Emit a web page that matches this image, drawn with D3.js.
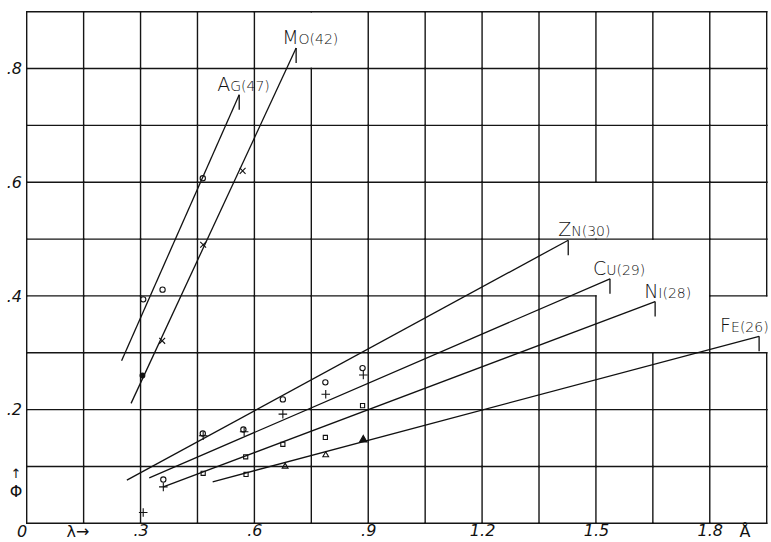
<!doctype html>
<html lang="en">
<head>
  <meta charset="utf-8">
  <title>Phi vs lambda</title>
  <style>
    * { margin: 0; padding: 0; box-sizing: border-box; }
    body { background: #fff; }
    #chart { width: 771px; height: 542px; }
    text { font-family: "DejaVu Sans", sans-serif; fill: #111; }
  </style>
</head>
<body>
  <div id="chart"></div>
  <script src="https://cdn.jsdelivr.net/npm/d3@7"></script>
  <script>
    // tick labels
    const xTickValues = [0.3, 0.6, 0.9, 1.2, 1.5, 1.8];
    const xTickLabels = ['.3', '.6', '.9', '1.2', '1.5', '1.8'];
    const yTickValues = [0.2, 0.4, 0.6, 0.8];
    const yTickLabels = ['.2', '.4', '.6', '.8'];

    // measured points [lambda, phi] and the drawn straight line [start, end]
    const agPoints = [[0.307, 0.394], [0.358, 0.411], [0.464, 0.607]];
    const agLine = [[0.250, 0.286], [0.560, 0.754]];

    const moPoints = [[0.357, 0.321], [0.465, 0.490], [0.569, 0.620]];
    const moDot = [[0.305, 0.260]];
    const moLine = [[0.275, 0.211], [0.710, 0.836]];

    const znPoints = [[0.360, 0.077], [0.464, 0.158], [0.571, 0.165], [0.675, 0.218], [0.787, 0.248], [0.885, 0.273]];
    const znLine = [[0.264, 0.076], [1.427, 0.498]];

    const cuPoints = [[0.307, 0.019], [0.360, 0.064], [0.465, 0.154], [0.573, 0.161], [0.675, 0.192], [0.788, 0.227], [0.887, 0.261]];
    const cuLine = [[0.323, 0.080], [1.537, 0.430]];

    const niPoints = [[0.465, 0.088], [0.577, 0.117], [0.675, 0.139], [0.787, 0.151], [0.885, 0.207], [0.578, 0.086]];
    const niLine = [[0.360, 0.064], [1.656, 0.390]];

    const fePoints = [[0.681, 0.100], [0.788, 0.120]];
    const feFilled = [[0.887, 0.147]];
    const feLine = [[0.490, 0.073], [1.930, 0.329]];

    const seriesNames = ['AG(47)', 'MO(42)', 'ZN(30)', 'CU(29)', 'NI(28)', 'FE(26)'];

    const W = 771, H = 542;
    const x = d3.scaleLinear().domain([0, 1.95]).range([26.7, 766.7]);
    const y = d3.scaleLinear().domain([0, 0.9]).range([523.3, 11.7]);

    const svg = d3.select('#chart').append('svg')
      .attr('width', W).attr('height', H);
    svg.append('rect').attr('width', W).attr('height', H).attr('fill', '#fff');

    // hand-drawn grid: cell edges, a few are missing around the labels
    const nx = 13, ny = 9;
    const missingV = ['5,8', '10,4', '10,5', '11,3', '11,4', '13,3'];
    const missingH = ['4,10', '4,11'];
    const edges = [];
    for (let i = 0; i <= nx; i++) {
      for (let j = 0; j < ny; j++) {
        if (missingV.includes(i + ',' + j)) continue;
        edges.push([[i * 0.15, j * 0.1], [i * 0.15, (j + 1) * 0.1]]);
      }
    }
    for (let j = 0; j <= ny; j++) {
      for (let i = 0; i < nx; i++) {
        if (missingH.includes(j + ',' + i)) continue;
        edges.push([[i * 0.15, j * 0.1], [(i + 1) * 0.15, j * 0.1]]);
      }
    }
    svg.append('g').selectAll('line').data(edges).join('line')
      .attr('x1', d => x(d[0][0])).attr('y1', d => y(d[0][1]))
      .attr('x2', d => x(d[1][0])).attr('y2', d => y(d[1][1]))
      .attr('stroke', '#151515').attr('stroke-width', 1.4)
      .attr('stroke-linecap', 'square');

    // axes (labels only)
    const xAxis = d3.axisBottom(x).tickValues(xTickValues)
      .tickFormat((d, i) => xTickLabels[i]).tickSize(0).tickPadding(0);
    const gx = svg.append('g').attr('transform', 'translate(0,525)').call(xAxis);
    gx.select('.domain').remove();
    gx.selectAll('text').attr('font-size', 16).attr('font-style', 'italic')
      .attr('font-family', '"DejaVu Sans", sans-serif').attr('fill', '#111');

    const yAxis = d3.axisLeft(y).tickValues(yTickValues)
      .tickFormat((d, i) => yTickLabels[i]).tickSize(0).tickPadding(0);
    const gy = svg.append('g').attr('transform', 'translate(22,0)').call(yAxis);
    gy.select('.domain').remove();
    gy.selectAll('text').attr('font-size', 16).attr('font-style', 'italic')
      .attr('font-family', '"DejaVu Sans", sans-serif').attr('fill', '#111');

    svg.append('text').attr('x', 22).attr('y', 537).attr('text-anchor', 'middle')
      .attr('font-size', 16).attr('font-style', 'italic').text('0');
    svg.append('text').attr('x', 78).attr('y', 537).attr('text-anchor', 'middle')
      .attr('font-size', 16).text('λ→');
    svg.append('text').attr('x', 745).attr('y', 537).attr('text-anchor', 'middle')
      .attr('font-size', 16).text('Å');
    svg.append('text').attr('x', 16).attr('y', 478).attr('text-anchor', 'middle')
      .attr('font-size', 13).text('↑');
    svg.append('text').attr('x', 16).attr('y', 497).attr('text-anchor', 'middle')
      .attr('font-size', 16).text('Φ');

    // fitted lines with label ticks
    const lines = [agLine, moLine, znLine, cuLine, niLine, feLine];
    const labelDx = [-22, -14, -10, -17, -11, -39];
    const lineGen = d3.line().x(d => x(d[0])).y(d => y(d[1]));
    lines.forEach((ln, k) => {
      svg.append('path').attr('d', lineGen(ln))
        .attr('fill', 'none').attr('stroke', '#111').attr('stroke-width', 1.3);
      const ex = x(ln[1][0]), ey = y(ln[1][1]);
      svg.append('line').attr('x1', ex).attr('y1', ey).attr('x2', ex).attr('y2', ey + 15)
        .attr('stroke', '#111').attr('stroke-width', 1.3);
      const name = seriesNames[k];
      const t = svg.append('text').attr('x', ex + labelDx[k]).attr('y', ey - 4)
        .attr('font-family', '"DejaVu Sans", sans-serif').attr('font-weight', 300);
      t.append('tspan').attr('font-size', 19).text(name[0]);
      t.append('tspan').attr('font-size', 14).text(name.slice(1));
    });

    // markers
    function marks(data, type, filled, size) {
      svg.append('g').selectAll('path').data(data).join('path')
        .attr('transform', d => `translate(${x(d[0])},${y(d[1])})`)
        .attr('d', d3.symbol(type, size))
        .attr('fill', filled ? '#111' : 'none')
        .attr('stroke', '#111').attr('stroke-width', 1.1);
    }
    marks(agPoints, d3.symbolCircle, false, 22);
    marks(znPoints, d3.symbolCircle, false, 22);
    marks(moPoints, d3.symbolTimes, false, 24);
    marks(moDot, d3.symbolCircle, true, 18);
    marks(cuPoints, d3.symbolPlus, false, 26);
    marks(niPoints, d3.symbolSquare2, false, 22);
    marks(fePoints, d3.symbolTriangle2, false, 24);
    marks(feFilled, d3.symbolTriangle, true, 24);
  </script>
</body>
</html>
